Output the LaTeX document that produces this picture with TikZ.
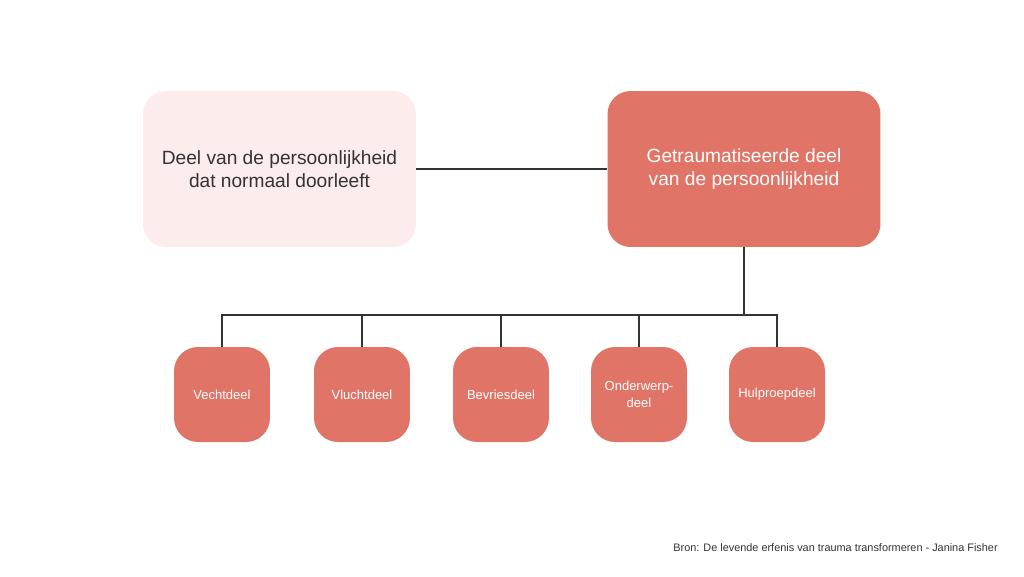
\documentclass[tikz,border=0pt]{standalone}
\usepackage{fontspec}
\setmainfont{Liberation Sans}
\definecolor{salmon}{HTML}{E07467}
\definecolor{blush}{HTML}{FCEDEC}
\definecolor{ink}{HTML}{333333}
\begin{document}
\begin{tikzpicture}[x=0.02cm,y=-0.02cm,
  bigbox/.style={rectangle, rounded corners=0.46cm, minimum width=5.46cm, minimum height=3.12cm, align=center, inner sep=0pt, font=\fontsize{10.9}{13.2}\selectfont},
  smallbox/.style={rectangle, rounded corners=0.48cm, fill=salmon, text=white, minimum width=1.92cm, minimum height=1.9cm, align=center, inner sep=0pt, font=\fontsize{7.4}{9.7}\selectfont},
  link/.style={draw=ink, line width=0.6pt}]
\fill[white] (0,0) rectangle (1024,576);
\useasboundingbox (0,0) rectangle (1024,576);

\node[bigbox, fill=blush, text=ink] (deel) at (279.5,169) {Deel van de persoonlijkheid\\dat normaal doorleeft};
\node[bigbox, fill=salmon, text=white] (trauma) at (744,169) {Getraumatiseerde deel\\van de persoonlijkheid};

\node[smallbox] (vecht) at (222,394.5) {Vechtdeel};
\node[smallbox] (vlucht) at (362,394.5) {Vluchtdeel};
\node[smallbox] (bevries) at (501,394.5) {Bevriesdeel};
\node[smallbox] (onder) at (639,394.5) {Onderwerp-\\deel};
\node[smallbox] (hulp) at (777,394.5) {Hulproepdeel};

\coordinate (bus) at (777,315);

\draw[link] (deel.east) -- (trauma.west);
\draw[link] (trauma.south) -- (trauma.south |- bus);
\draw[link] (vecht.north) |- (bus) -- (hulp.north);
\draw[link] (vlucht.north) -- (vlucht.north |- bus);
\draw[link] (bevries.north) -- (bevries.north |- bus);
\draw[link] (onder.north) -- (onder.north |- bus);

\node[anchor=west, text=ink, inner sep=0pt, font=\fontsize{6.2}{7.5}\selectfont] (bron) at (673,548) {Bron: De levende erfenis van trauma transformeren - Janina Fisher};
\end{tikzpicture}
\end{document}
